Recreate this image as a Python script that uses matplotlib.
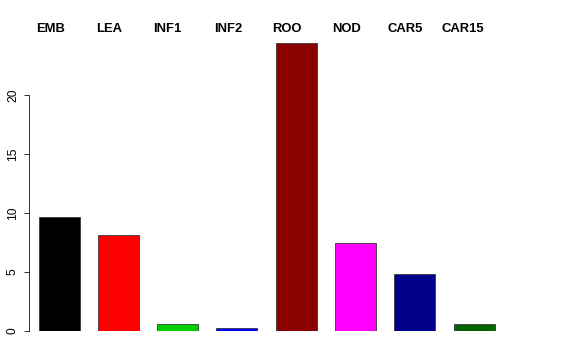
import matplotlib
matplotlib.use("Agg")
import matplotlib.pyplot as plt

categories = ["EMB", "LEA", "INF1", "INF2", "ROO", "NOD", "CAR5", "CAR15"]
values = [9.65, 8.1, 0.6, 0.25, 24.4, 7.5, 4.8, 0.6]
colors = ["#000000", "#FF0000", "#00CD00", "#0000FF", "#8B0000", "#FF00FF", "#00008B", "#006400"]
yticks = [0, 5, 10, 15, 20]
label_left_px = [36, 96, 153, 214, 272, 332, 387, 442]

W, H = 576, 360
plt.rcParams['font.family'] = ['Liberation Sans', 'DejaVu Sans']
fig = plt.figure(figsize=(W/72, H/72), dpi=72)

ax_left, ax_right = 29, 552
ax_bottom, ax_top = 331, 20
ax = fig.add_axes([ax_left/W, 1 - ax_bottom/H, (ax_right-ax_left)/W, (ax_bottom-ax_top)/H])
pitch = 59.3
c0 = 59
ax.set_xlim((ax_left - c0)/pitch, (ax_right - c0)/pitch)
ppu = 11.8
ax.set_ylim(0, (ax_bottom - ax_top)/ppu)

x = list(range(len(categories)))
ax.bar(x, values, width=41/pitch, color=colors, edgecolor="#333333", linewidth=0.8)

for s in ["top", "right", "bottom"]:
    ax.spines[s].set_visible(False)
ax.spines["left"].set_bounds(0, 20)
ax.spines["left"].set_linewidth(0.8)
ax.set_xticks([])
ax.set_yticks(yticks)
ax.set_yticklabels([str(t) for t in yticks], rotation=90, va="center", fontsize=12)
ax.tick_params(axis="y", length=5, width=0.8, pad=5)

for lab, lx in zip(categories, label_left_px):
    fig.text(lx/W, 1 - 29.5/H, lab, ha="left", va="center", fontsize=13, fontweight="bold")

fig.savefig("out.png", dpi=72)
